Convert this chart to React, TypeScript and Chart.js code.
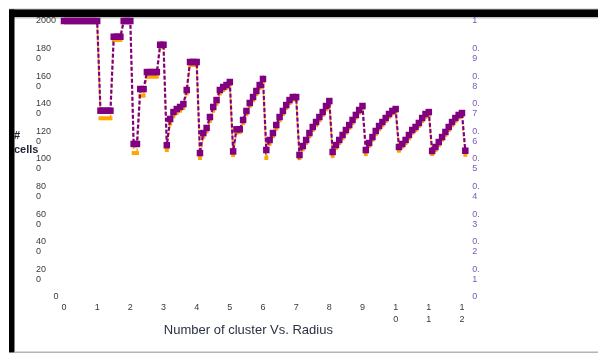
import React, { useEffect, useRef } from "react";
import { Chart, registerables } from "chart.js";

Chart.register(...registerables);

// Radius (x) values
const radius = [
  0, 0.1, 0.2, 0.3, 0.4, 0.5, 0.6, 0.7, 0.8, 0.9,
  1, 1.1, 1.2, 1.3, 1.4, 1.5, 1.6, 1.7, 1.8, 1.9,
  2, 2.1, 2.2, 2.3, 2.4, 2.5, 2.6, 2.7, 2.8, 2.9,
  3, 3.1, 3.2, 3.3, 3.4, 3.5, 3.6, 3.7, 3.8, 3.9,
  4, 4.1, 4.2, 4.3, 4.4, 4.5, 4.6, 4.7, 4.8, 4.9,
  5, 5.1, 5.2, 5.3, 5.4, 5.5, 5.6, 5.7, 5.8, 5.9,
  6, 6.1, 6.2, 6.3, 6.4, 6.5, 6.6, 6.7, 6.8, 6.9,
  7, 7.1, 7.2, 7.3, 7.4, 7.5, 7.6, 7.7, 7.8, 7.9,
  8, 8.1, 8.2, 8.3, 8.4, 8.5, 8.6, 8.7, 8.8, 8.9,
  9, 9.1, 9.2, 9.3, 9.4, 9.5, 9.6, 9.7, 9.8, 9.9,
  10, 10.1, 10.2, 10.3, 10.4, 10.5, 10.6, 10.7, 10.8, 10.9,
  11, 11.1, 11.2, 11.3, 11.4, 11.5, 11.6, 11.7, 11.8, 11.9,
  12, 12.1,
];

// Purple series (# cells)
const cellsPurple = [
  2000, 2000, 2000, 2000, 2000, 2000, 2000, 2000, 2000, 2000,
  2000, 1350, 1350, 1350, 1350, 1886, 1886, 1886, 2000, 2000,
  2000, 1109, 1109, 1507, 1507, 1630, 1630, 1630, 1630, 1828,
  1828, 1100, 1290, 1340, 1362, 1377, 1398, 1500, 1703, 1703,
  1703, 1043, 1188, 1225, 1304, 1377, 1427, 1500, 1522, 1536,
  1558, 1055, 1215, 1215, 1283, 1348, 1406, 1449, 1493, 1536,
  1580, 1065, 1138, 1188, 1246, 1304, 1348, 1391, 1427, 1449,
  1449, 1029, 1094, 1138, 1188, 1232, 1268, 1304, 1340, 1384,
  1420, 1051, 1101, 1138, 1174, 1210, 1246, 1283, 1319, 1355,
  1384, 1065, 1116, 1159, 1203, 1239, 1268, 1297, 1326, 1348,
  1362, 1087, 1109, 1138, 1174, 1210, 1232, 1261, 1297, 1326,
  1340, 1058, 1087, 1123, 1159, 1196, 1232, 1268, 1297, 1319,
  1333, 1060,
];

// Orange series (# cells)
const cellsOrange = [
  2000, 2000, 2000, 2000, 2000, 2000, 2000, 2000, 2000, 2000,
  2000, 1295, 1295, 1295, 1295, 1862, 1862, 1862, 1995, 1995,
  1995, 1043, 1043, 1459, 1459, 1596, 1596, 1596, 1596, 1811,
  1811, 1065, 1255, 1310, 1335, 1350, 1370, 1475, 1681, 1681,
  1681, 1007, 1160, 1200, 1275, 1350, 1400, 1475, 1500, 1515,
  1540, 1029, 1190, 1195, 1260, 1325, 1385, 1425, 1470, 1515,
  1560, 1007, 1110, 1165, 1220, 1280, 1325, 1370, 1405, 1430,
  1430, 1007, 1070, 1115, 1165, 1210, 1245, 1280, 1320, 1360,
  1400, 1022, 1080, 1115, 1150, 1190, 1225, 1260, 1300, 1335,
  1365, 1036, 1095, 1140, 1180, 1215, 1245, 1275, 1305, 1330,
  1345, 1060, 1090, 1115, 1150, 1190, 1210, 1240, 1275, 1305,
  1320, 1036, 1065, 1100, 1140, 1175, 1210, 1245, 1275, 1300,
  1315, 1030,
];

const xTickValues = [0, 1, 2, 3, 4, 5, 6, 7, 8, 9, 10, 11, 12];
const xTickLabels: (string | string[])[] = [
  "0", "1", "2", "3", "4", "5", "6", "7", "8", "9",
  ["1", "0"], ["1", "1"], ["1", "2"],
];

const leftTickValues = [0, 200, 400, 600, 800, 1000, 1200, 1400, 1600, 1800, 2000];
const leftTickLabels: string[][] = [
  ["       0", ""], ["20", "0"], ["40", "0"], ["60", "0"], ["80", "0"],
  ["100", "0"], ["120", "0"], ["140", "0"], ["160", "0"], ["180", "0"],
  ["2000", ""],
];

const rightTickValues = [0, 0.1, 0.2, 0.3, 0.4, 0.5, 0.6, 0.7, 0.8, 0.9, 1];
const rightTickLabels: string[][] = [
  ["0", ""], ["0.", "1"], ["0.", "2"], ["0.", "3"], ["0.", "4"], ["0.", "5"],
  ["0.", "6"], ["0.", "7"], ["0.", "8"], ["0.", "9"], ["1", ""],
];

const xTitle = "Number of cluster Vs. Radius";
const yTitleLines = ["#", "cells"];

const FONT = "'Liberation Sans', Arial, sans-serif";

export default function App() {
  const ref = useRef<HTMLCanvasElement | null>(null);

  useEffect(() => {
    const canvas = ref.current;
    if (!canvas) return;

    const framePlugin = {
      id: "frame",
      beforeDraw(chart: any) {
        const ctx = chart.ctx;
        ctx.save();
        ctx.fillStyle = "#ffffff";
        ctx.fillRect(0, 0, chart.width, chart.height);
        ctx.fillStyle = "#c4c4c4";
        ctx.fillRect(9, 8.5, 589, 10);
        ctx.fillStyle = "#000000";
        ctx.fillRect(9, 9.5, 589, 7.5);
        ctx.fillRect(9, 9.5, 5.5, 343);
        ctx.fillStyle = "#b4b4b4";
        ctx.fillRect(14, 351.5, 584, 1.5);
        ctx.restore();
      },
      afterDraw(chart: any) {
        const ctx = chart.ctx;
        ctx.save();
        ctx.fillStyle = "#1e2430";
        ctx.font = `bold 11px ${FONT}`;
        ctx.textAlign = "left";
        ctx.textBaseline = "middle";
        ctx.fillText(yTitleLines[0], 14, 136);
        ctx.fillText(yTitleLines[1], 14, 150);
        ctx.restore();
      },
    };

    const chart = new Chart(canvas, {
      type: "line",
      data: {
        datasets: [
          {
            label: "purple",
            data: radius.map((x, i) => ({ x, y: cellsPurple[i] })),
            borderColor: "#800080",
            backgroundColor: "#800080",
            borderWidth: 2.2,
            borderDash: [4, 2],
            pointStyle: "rect",
            pointRadius: 4.6,
            pointBorderWidth: 0,
            pointBackgroundColor: "#800080",
            tension: 0,
            clip: false,
            xAxisID: "x",
            yAxisID: "y",
          },
          {
            label: "orange",
            data: radius.map((x, i) => ({ x, y: cellsOrange[i] })),
            borderColor: "#ffa500",
            backgroundColor: "#ffa500",
            borderWidth: 1.5,
            borderDash: [3, 3],
            borderDashOffset: 3,
            pointStyle: "rect",
            pointRadius: 2.8,
            pointBorderWidth: 0,
            pointBackgroundColor: "#ffa500",
            tension: 0,
            clip: false,
            xAxisID: "x",
            yAxisID: "y",
          },
        ],
      },
      options: {
        responsive: false,
        animation: false,
        devicePixelRatio: 1,
        layout: { padding: { left: 36, top: 21, right: 102.7, bottom: 12 } },
        plugins: {
          legend: { display: false },
          tooltip: { enabled: false },
        },
        scales: {
          x: {
            type: "linear",
            position: "bottom",
            min: 0,
            max: 12.1,
            grid: { display: false, drawTicks: false },
            border: { display: false },
            afterBuildTicks: (axis: any) => {
              axis.ticks = xTickValues.map((v) => ({ value: v }));
            },
            afterFit: (s: any) => {
              s.height = 45;
            },
            ticks: {
              autoSkip: false,
              maxRotation: 0,
              minRotation: 0,
              padding: 5,
              color: "#333a44",
              font: { family: FONT, size: 9, lineHeight: "12px" },
              callback: (_v: any, i: number) => xTickLabels[i],
            },
            title: {
              display: true,
              text: xTitle + "         ",
              color: "#2a3240",
              font: { family: FONT, size: 13, lineHeight: 1.2 },
              padding: { top: 0, bottom: 4 },
            },
          },
          y: {
            type: "linear",
            position: "left",
            min: 0,
            max: 2000,
            grid: { display: false, drawTicks: false },
            border: { display: false },
            afterBuildTicks: (axis: any) => {
              axis.ticks = leftTickValues.map((v) => ({ value: v }));
            },
            afterFit: (s: any) => {
              s.width = 28;
            },
            ticks: {
              autoSkip: false,
              crossAlign: "far",
              padding: 0,
              labelOffset: 5,
              color: "#3a3a3a",
              font: { family: FONT, size: 9, lineHeight: "10px" },
              callback: (_v: any, i: number) => leftTickLabels[i],
            },
          },
          y1: {
            type: "linear",
            position: "right",
            display: true,
            min: 0,
            max: 1,
            grid: { display: false, drawOnChartArea: false, drawTicks: false },
            border: { display: false },
            afterBuildTicks: (axis: any) => {
              axis.ticks = rightTickValues.map((v) => ({ value: v }));
            },
            afterFit: (s: any) => {
              s.width = 30;
            },
            ticks: {
              autoSkip: false,
              crossAlign: "near",
              padding: 7,
              labelOffset: 5,
              color: "#7a58b8",
              font: { family: FONT, size: 9, lineHeight: "10px" },
              callback: (_v: any, i: number) => rightTickLabels[i],
            },
          },
        },
      },
      plugins: [framePlugin],
    } as any);

    return () => {
      chart.destroy();
    };
  }, []);

  return (
    <div style={{ position: "fixed", left: 0, top: 0, width: 598, height: 354, background: "#fff" }}>
      <canvas ref={ref} width={598} height={354} style={{ display: "block", width: 598, height: 354 }} />
    </div>
  );
}
